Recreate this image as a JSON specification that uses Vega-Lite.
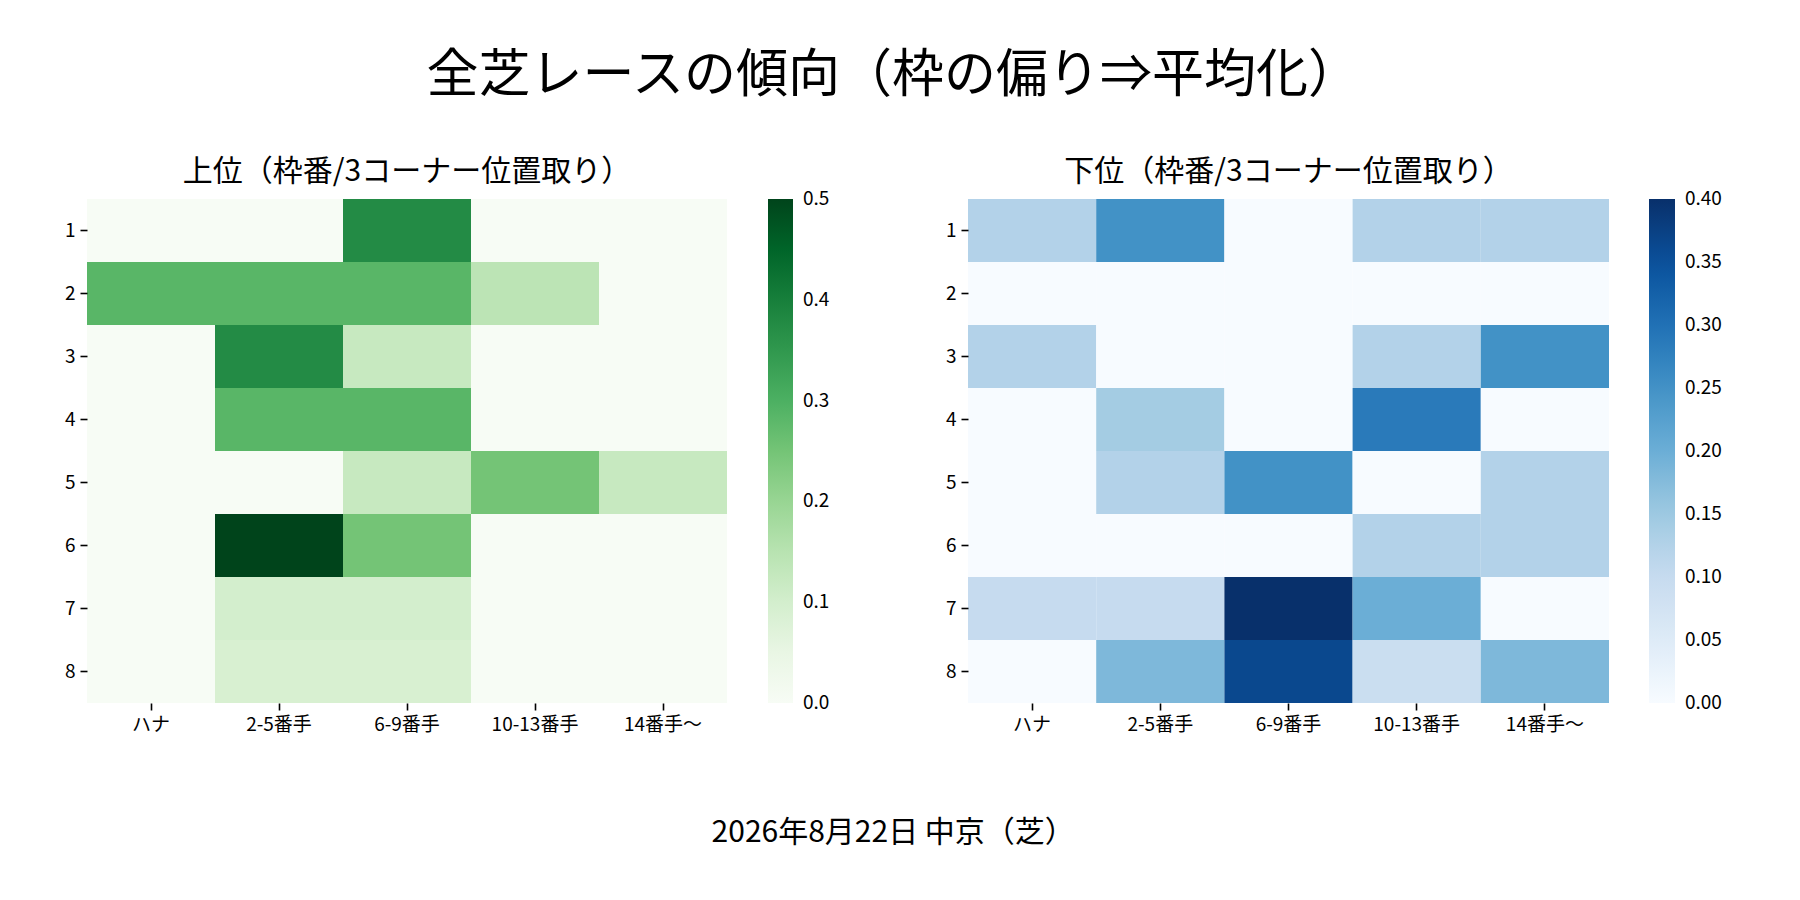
{
  "$schema": "https://vega.github.io/schema/vega-lite/v6.json",
  "padding": {"left": 64, "top": 50, "right": 20, "bottom": 30},
  "config": {
    "font": "Noto Sans CJK JP",
    "view": {"stroke": null},
    "axis": {
      "title": null,
      "domain": false,
      "grid": false,
      "ticks": true,
      "tickColor": "black",
      "tickSize": 7,
      "tickWidth": 1.6,
      "labelAngle": 0,
      "labelFontSize": 19,
      "labelColor": "black",
      "labelPadding": 5,
      "labelFont": "Noto Sans CJK JP"
    },
    "legend": {
      "labelFontSize": 19,
      "labelColor": "black",
      "labelFont": "Noto Sans CJK JP"
    }
  },
  "datasets": {
    "upper": [
      {"waku": 1, "pos": "ハナ", "rate": 0},
      {"waku": 1, "pos": "2-5番手", "rate": 0},
      {"waku": 1, "pos": "6-9番手", "rate": 0.375},
      {"waku": 1, "pos": "10-13番手", "rate": 0},
      {"waku": 1, "pos": "14番手～", "rate": 0},
      {"waku": 2, "pos": "ハナ", "rate": 0.2857},
      {"waku": 2, "pos": "2-5番手", "rate": 0.2857},
      {"waku": 2, "pos": "6-9番手", "rate": 0.2857},
      {"waku": 2, "pos": "10-13番手", "rate": 0.1429},
      {"waku": 2, "pos": "14番手～", "rate": 0},
      {"waku": 3, "pos": "ハナ", "rate": 0},
      {"waku": 3, "pos": "2-5番手", "rate": 0.375},
      {"waku": 3, "pos": "6-9番手", "rate": 0.125},
      {"waku": 3, "pos": "10-13番手", "rate": 0},
      {"waku": 3, "pos": "14番手～", "rate": 0},
      {"waku": 4, "pos": "ハナ", "rate": 0},
      {"waku": 4, "pos": "2-5番手", "rate": 0.2857},
      {"waku": 4, "pos": "6-9番手", "rate": 0.2857},
      {"waku": 4, "pos": "10-13番手", "rate": 0},
      {"waku": 4, "pos": "14番手～", "rate": 0},
      {"waku": 5, "pos": "ハナ", "rate": 0},
      {"waku": 5, "pos": "2-5番手", "rate": 0},
      {"waku": 5, "pos": "6-9番手", "rate": 0.125},
      {"waku": 5, "pos": "10-13番手", "rate": 0.25},
      {"waku": 5, "pos": "14番手～", "rate": 0.125},
      {"waku": 6, "pos": "ハナ", "rate": 0},
      {"waku": 6, "pos": "2-5番手", "rate": 0.5},
      {"waku": 6, "pos": "6-9番手", "rate": 0.25},
      {"waku": 6, "pos": "10-13番手", "rate": 0},
      {"waku": 6, "pos": "14番手～", "rate": 0},
      {"waku": 7, "pos": "ハナ", "rate": 0},
      {"waku": 7, "pos": "2-5番手", "rate": 0.1},
      {"waku": 7, "pos": "6-9番手", "rate": 0.1},
      {"waku": 7, "pos": "10-13番手", "rate": 0},
      {"waku": 7, "pos": "14番手～", "rate": 0},
      {"waku": 8, "pos": "ハナ", "rate": 0},
      {"waku": 8, "pos": "2-5番手", "rate": 0.0909},
      {"waku": 8, "pos": "6-9番手", "rate": 0.0909},
      {"waku": 8, "pos": "10-13番手", "rate": 0},
      {"waku": 8, "pos": "14番手～", "rate": 0}
    ],
    "lower": [
      {"waku": 1, "pos": "ハナ", "rate": 0.125},
      {"waku": 1, "pos": "2-5番手", "rate": 0.25},
      {"waku": 1, "pos": "6-9番手", "rate": 0},
      {"waku": 1, "pos": "10-13番手", "rate": 0.125},
      {"waku": 1, "pos": "14番手～", "rate": 0.125},
      {"waku": 2, "pos": "ハナ", "rate": 0},
      {"waku": 2, "pos": "2-5番手", "rate": 0},
      {"waku": 2, "pos": "6-9番手", "rate": 0},
      {"waku": 2, "pos": "10-13番手", "rate": 0},
      {"waku": 2, "pos": "14番手～", "rate": 0},
      {"waku": 3, "pos": "ハナ", "rate": 0.125},
      {"waku": 3, "pos": "2-5番手", "rate": 0},
      {"waku": 3, "pos": "6-9番手", "rate": 0},
      {"waku": 3, "pos": "10-13番手", "rate": 0.125},
      {"waku": 3, "pos": "14番手～", "rate": 0.25},
      {"waku": 4, "pos": "ハナ", "rate": 0},
      {"waku": 4, "pos": "2-5番手", "rate": 0.1429},
      {"waku": 4, "pos": "6-9番手", "rate": 0},
      {"waku": 4, "pos": "10-13番手", "rate": 0.2857},
      {"waku": 4, "pos": "14番手～", "rate": 0},
      {"waku": 5, "pos": "ハナ", "rate": 0},
      {"waku": 5, "pos": "2-5番手", "rate": 0.125},
      {"waku": 5, "pos": "6-9番手", "rate": 0.25},
      {"waku": 5, "pos": "10-13番手", "rate": 0},
      {"waku": 5, "pos": "14番手～", "rate": 0.125},
      {"waku": 6, "pos": "ハナ", "rate": 0},
      {"waku": 6, "pos": "2-5番手", "rate": 0},
      {"waku": 6, "pos": "6-9番手", "rate": 0},
      {"waku": 6, "pos": "10-13番手", "rate": 0.125},
      {"waku": 6, "pos": "14番手～", "rate": 0.125},
      {"waku": 7, "pos": "ハナ", "rate": 0.1},
      {"waku": 7, "pos": "2-5番手", "rate": 0.1},
      {"waku": 7, "pos": "6-9番手", "rate": 0.4},
      {"waku": 7, "pos": "10-13番手", "rate": 0.2},
      {"waku": 7, "pos": "14番手～", "rate": 0},
      {"waku": 8, "pos": "ハナ", "rate": 0},
      {"waku": 8, "pos": "2-5番手", "rate": 0.1818},
      {"waku": 8, "pos": "6-9番手", "rate": 0.3636},
      {"waku": 8, "pos": "10-13番手", "rate": 0.0909},
      {"waku": 8, "pos": "14番手～", "rate": 0.1818}
    ]
  },
  "title": {
    "text": "2026年8月22日 中京（芝）",
    "orient": "bottom",
    "anchor": "middle",
    "fontSize": 30,
    "fontWeight": "normal",
    "color": "black",
    "offset": 84
  },
  "vconcat": [
    {
      "title": {
        "text": "全芝レースの傾向（枠の偏り⇒平均化）",
        "anchor": "middle",
        "fontSize": 52,
        "fontWeight": "normal",
        "color": "black",
        "offset": 54
      },
      "bounds": "flush",
      "spacing": 241,
      "resolve": {"scale": {"color": "independent"}, "legend": {"color": "independent"}},
      "hconcat": [
        {
          "title": {"text": "上位（枠番/3コーナー位置取り）", "anchor": "middle", "frame": "group", "fontSize": 30, "fontWeight": "normal", "color": "black", "offset": 12},
          "width": 640,
          "height": 504,
          "data": {"name": "upper"},
          "mark": {"type": "rect"},
          "encoding": {
            "x": {"field": "pos", "type": "nominal", "sort": ["ハナ", "2-5番手", "6-9番手", "10-13番手", "14番手～"], "scale": {"paddingInner": 0, "paddingOuter": 0}},
            "y": {"field": "waku", "type": "ordinal", "scale": {"paddingInner": 0, "paddingOuter": 0}},
            "color": {
              "field": "rate",
              "type": "quantitative",
              "scale": {
                "type": "linear",
                "domain": [0, 0.0625, 0.125, 0.1875, 0.25, 0.3125, 0.375, 0.4375, 0.5],
                "range": ["#f7fcf5", "#e5f5e0", "#c7e9c0", "#a1d99b", "#74c476", "#41ab5d", "#238b45", "#006d2c", "#00441b"]
              },
              "legend": {
                "title": null,
                "direction": "vertical",
                "orient": "right",
                "offset": 41,
                "gradientLength": 504,
                "gradientThickness": 25,
                "gradientStrokeWidth": 0,
                "values": [0, 0.1, 0.2, 0.3, 0.4, 0.5],
                "format": ".1f",
                "labelOverlap": false,
                "labelOffset": 10,
                "encode": {"labels": {"update": {"baseline": {"value": "middle"}}}}
              }
            }
          }
        },
        {
          "title": {"text": "下位（枠番/3コーナー位置取り）", "anchor": "middle", "frame": "group", "fontSize": 30, "fontWeight": "normal", "color": "black", "offset": 12},
          "width": 641,
          "height": 504,
          "data": {"name": "lower"},
          "mark": {"type": "rect"},
          "encoding": {
            "x": {"field": "pos", "type": "nominal", "sort": ["ハナ", "2-5番手", "6-9番手", "10-13番手", "14番手～"], "scale": {"paddingInner": 0, "paddingOuter": 0}},
            "y": {"field": "waku", "type": "ordinal", "scale": {"paddingInner": 0, "paddingOuter": 0}},
            "color": {
              "field": "rate",
              "type": "quantitative",
              "scale": {
                "type": "linear",
                "domain": [0, 0.05, 0.1, 0.15, 0.2, 0.25, 0.3, 0.35, 0.4],
                "range": ["#f7fbff", "#deebf7", "#c6dbef", "#9ecae1", "#6baed6", "#4292c6", "#2171b5", "#08519c", "#08306b"]
              },
              "legend": {
                "title": null,
                "direction": "vertical",
                "orient": "right",
                "offset": 40,
                "gradientLength": 504,
                "gradientThickness": 26,
                "gradientStrokeWidth": 0,
                "values": [0, 0.05, 0.1, 0.15, 0.2, 0.25, 0.3, 0.35, 0.4],
                "format": ".2f",
                "labelOverlap": false,
                "labelOffset": 10,
                "encode": {"labels": {"update": {"baseline": {"value": "middle"}}}}
              }
            }
          }
        }
      ]
    }
  ]
}
